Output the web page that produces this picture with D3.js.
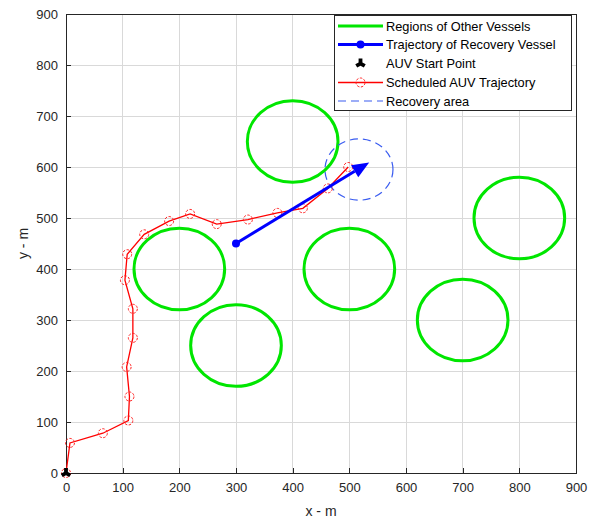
<!DOCTYPE html>
<meta charset="utf-8">
<style>
body { margin: 0; background: #fff; }
text { font-family: "Liberation Sans", Arial, sans-serif; }
.grid line { stroke: #d9d9d9; stroke-width: 1; shape-rendering: crispEdges; }
.axis path, .axis line { stroke: #262626; shape-rendering: crispEdges; }
.axis text { fill: #262626; font-size: 13px; }
</style>
<body>
<script src="https://cdnjs.cloudflare.com/ajax/libs/d3/7.8.5/d3.min.js"></script>
<script>

// tick values
var ticks = d3.range(0, 901, 100);

// regions of other vessels: centres and radius
var vesselX = [400, 200, 300, 500, 700, 800];
var vesselY = [650, 400, 250, 400, 300, 500];
var vesselR = 80;

// recovery area
var recoveryCenter = [517, 595];
var recoveryR = 60;

// recovery vessel trajectory (start -> end)
var vesselTrajX = [300, 535];
var vesselTrajY = [450, 609];

// scheduled AUV trajectory
var auvX = [0, 7, 65, 110, 112, 107, 118, 118, 104, 108, 138, 182, 219, 266, 321, 373, 418, 462, 498];
var auvY = [0, 59, 78, 103, 150, 208, 265, 322, 378, 429, 468, 494, 508, 488, 497, 510, 519, 558, 600];

// AUV start point
var startPoint = [0, 0];

var legendLabels = ["Regions of Other Vessels", "Trajectory of Recovery Vessel",
  "AUV Start Point", "Scheduled AUV Trajectory", "Recovery area"];

var margin = {top: 14, right: 26, bottom: 48, left: 66},
    width = 602 - margin.left - margin.right,
    height = 521 - margin.top - margin.bottom;

var x = d3.scaleLinear().domain([0, 900]).range([0, width]);
var y = d3.scaleLinear().domain([0, 900]).range([height, 0]);

var svg = d3.select("body").append("svg")
    .attr("width", 602)
    .attr("height", 521)
  .append("g")
    .attr("transform", "translate(" + margin.left + "," + margin.top + ")");

// grid
var grid = svg.append("g").attr("class", "grid");
grid.selectAll(".gx").data(ticks.slice(1, -1)).enter().append("line")
    .attr("x1", function(d) { return x(d); }).attr("x2", function(d) { return x(d); })
    .attr("y1", 0).attr("y2", height);
grid.selectAll(".gy").data(ticks.slice(1, -1)).enter().append("line")
    .attr("y1", function(d) { return y(d); }).attr("y2", function(d) { return y(d); })
    .attr("x1", 0).attr("x2", width);

// axes, ticks pointing inward
svg.append("g")
    .attr("class", "axis")
    .attr("transform", "translate(0," + height + ")")
    .call(d3.axisBottom(x).tickValues(ticks).tickSize(-5).tickPadding(10).tickSizeOuter(0));

svg.append("g")
    .attr("class", "axis")
    .call(d3.axisLeft(y).tickValues(ticks).tickSize(-5).tickPadding(8).tickSizeOuter(0));

// box
svg.append("rect")
    .attr("width", width).attr("height", height)
    .attr("fill", "none").attr("stroke", "#262626").attr("shape-rendering", "crispEdges");

// axis labels
svg.append("text")
    .attr("x", width / 2).attr("y", height + 43)
    .attr("text-anchor", "middle").attr("font-size", "14px").attr("fill", "#262626")
    .text("x - m");
svg.append("text")
    .attr("transform", "translate(-38," + (height / 2) + ") rotate(-90)")
    .attr("text-anchor", "middle").attr("font-size", "14px").attr("fill", "#262626")
    .text("y - m");

// vessel regions
svg.selectAll(".vessel").data(vesselX).enter().append("ellipse")
    .attr("cx", function(d) { return x(d); })
    .attr("cy", function(d, i) { return y(vesselY[i]); })
    .attr("rx", x(vesselR) - x(0))
    .attr("ry", y(0) - y(vesselR))
    .attr("fill", "none").attr("stroke", "#00e600").attr("stroke-width", 3);

// recovery area
svg.append("ellipse")
    .attr("cx", x(recoveryCenter[0])).attr("cy", y(recoveryCenter[1]))
    .attr("rx", x(recoveryR) - x(0)).attr("ry", y(0) - y(recoveryR))
    .attr("fill", "none").attr("stroke", "#3a5cf0").attr("stroke-width", 1.2)
    .attr("stroke-dasharray", "8,5");

// scheduled AUV trajectory
var line = d3.line()
    .x(function(d) { return x(d[0]); })
    .y(function(d) { return y(d[1]); });
var auv = auvX.map(function(d, i) { return [d, auvY[i]]; });

svg.append("path")
    .datum(auv)
    .attr("d", line)
    .attr("fill", "none").attr("stroke", "#ff0000").attr("stroke-width", 1.3);

svg.selectAll(".auvpt").data(auv).enter().append("circle")
    .attr("cx", function(d) { return x(d[0]); })
    .attr("cy", function(d) { return y(d[1]); })
    .attr("r", 4.5)
    .attr("fill", "none").attr("stroke", "#ff2020").attr("stroke-width", 1)
    .attr("stroke-dasharray", "2.5,1.5");

// recovery vessel trajectory with arrowhead
var x0 = x(vesselTrajX[0]), y0 = y(vesselTrajY[0]),
    x1 = x(vesselTrajX[1]), y1 = y(vesselTrajY[1]);
var ang = Math.atan2(y1 - y0, x1 - x0), headLen = 17, headW = 7;
var bx = x1 - headLen * Math.cos(ang), by = y1 - headLen * Math.sin(ang);

svg.append("line")
    .attr("x1", x0).attr("y1", y0).attr("x2", bx).attr("y2", by)
    .attr("stroke", "#0000ff").attr("stroke-width", 3);
svg.append("path")
    .attr("d", "M" + x1 + "," + y1 +
      "L" + (bx + headW * Math.sin(ang)) + "," + (by - headW * Math.cos(ang)) +
      "L" + (bx - headW * Math.sin(ang)) + "," + (by + headW * Math.cos(ang)) + "Z")
    .attr("fill", "#0000ff");
svg.append("circle")
    .attr("cx", x0).attr("cy", y0).attr("r", 4).attr("fill", "#0000ff");

// AUV start point
var wye = d3.symbol().type(d3.symbolWye).size(50);
svg.append("path")
    .attr("d", wye())
    .attr("transform", "translate(" + x(startPoint[0]) + "," + y(startPoint[1]) + ") rotate(180)")
    .attr("fill", "#000");

// legend
var lg = svg.append("g").attr("transform", "translate(" + (334 - margin.left) + "," + (15 - margin.top) + ")");
lg.append("rect")
    .attr("width", 237).attr("height", 95)
    .attr("fill", "#fff").attr("stroke", "#262626").attr("shape-rendering", "crispEdges");

var rowY = [11, 29.5, 48.5, 67.5, 86];
lg.selectAll(".lt").data(legendLabels).enter().append("text")
    .attr("x", 52).attr("y", function(d, i) { return rowY[i] + 4.5; })
    .attr("font-size", "12.8px").attr("fill", "#000")
    .text(function(d) { return d; });

lg.append("line").attr("x1", 4).attr("x2", 49).attr("y1", rowY[0]).attr("y2", rowY[0])
    .attr("stroke", "#00e600").attr("stroke-width", 3);
lg.append("line").attr("x1", 4).attr("x2", 49).attr("y1", rowY[1]).attr("y2", rowY[1])
    .attr("stroke", "#0000ff").attr("stroke-width", 3);
lg.append("circle").attr("cx", 26.5).attr("cy", rowY[1]).attr("r", 4).attr("fill", "#0000ff");
lg.append("path").attr("d", wye())
    .attr("transform", "translate(26.5," + rowY[2] + ") rotate(180)").attr("fill", "#000");
lg.append("line").attr("x1", 4).attr("x2", 49).attr("y1", rowY[3]).attr("y2", rowY[3])
    .attr("stroke", "#ff0000").attr("stroke-width", 1.3);
lg.append("circle").attr("cx", 26.5).attr("cy", rowY[3]).attr("r", 4.5)
    .attr("fill", "none").attr("stroke", "#ff2020").attr("stroke-dasharray", "2.5,1.5");
lg.append("line").attr("x1", 4).attr("x2", 49).attr("y1", rowY[4]).attr("y2", rowY[4])
    .attr("stroke", "#3a5cf0").attr("stroke-width", 1.2).attr("stroke-dasharray", "8,5");

</script>
